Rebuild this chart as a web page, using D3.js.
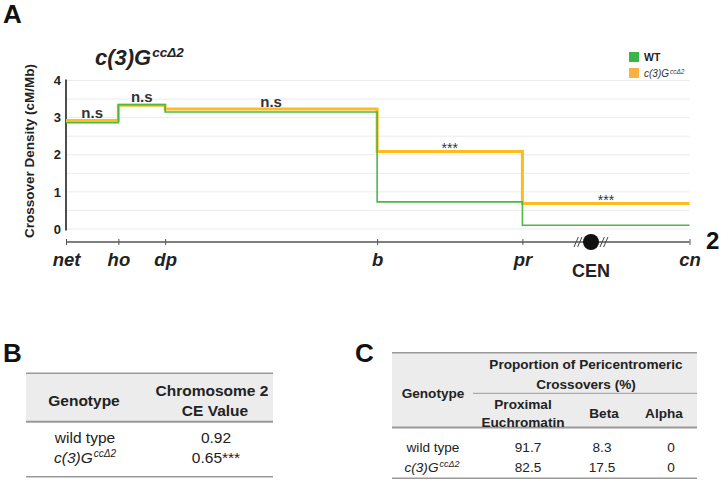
<!DOCTYPE html>
<html><head><meta charset="utf-8">
<script src="https://cdn.jsdelivr.net/npm/d3@7"></script>
<style>body{margin:0;background:#fff}svg{display:block;font-family:"Liberation Sans",Arial,sans-serif}</style>
</head><body><svg id="c" width="721" height="480"></svg>
<script>
// ---------- data ----------
const markers = ["net", "ho", "dp", "b", "pr", "cn"];
const markerPos = [0, 8.4, 15.9, 49.9, 73.2, 100];   // relative map position along chromosome 2
const cenPos = 84.2;
const wtDensity = [2.86, 3.35, 3.15, 0.73, 0.10];
const mutDensity = [2.92, 3.33, 3.23, 2.09, 0.69];
const significance = ["n.s", "n.s", "n.s", "***", "***"];
const yTicks = [0, 1, 2, 3, 4];
const gridTicks = [0, 0.5, 1, 1.5, 2, 2.5, 3, 3.5, 4];
const seriesNames = ["WT", "c(3)G"];

const tableBGenotypes = ["wild type", "c(3)G"];
const tableBValues = ["0.92", "0.65***"];
const tableCSubHeaders = [["Proximal", "Euchromatin"], ["Beta"], ["Alpha"]];
const tableCWT = ["91.7", "8.3", "0"];
const tableCMut = ["82.5", "17.5", "0"];

// ---------- setup ----------
const svg = d3.select("#c");
const GREEN = "#4cb848", ORANGE = "#fbbd1e";
const x = d3.scaleLinear().domain([0, 100]).range([66, 689.5]);
const y = d3.scaleLinear().domain([0, 4]).range([229, 80.5]);

function genotype(sel, gx, gy, size, supSize, rise, anchor, weight, fill) {
  const t = sel.append("text").attr("x", gx).attr("y", gy)
    .attr("font-size", size).attr("font-style", "italic")
    .attr("font-weight", weight || "normal").attr("fill", fill || "#111")
    .attr("text-anchor", anchor || "start");
  t.append("tspan").text("c(3)G");
  t.append("tspan").attr("dy", -rise).attr("dx", 1).attr("font-size", supSize).text("ccΔ2");
  return t;
}

// panel letters
svg.append("text").attr("x", 3).attr("y", 23).attr("font-size", 26).attr("font-weight", "bold").attr("fill", "#111").text("A");
svg.append("text").attr("x", 3).attr("y", 362).attr("font-size", 26).attr("font-weight", "bold").attr("fill", "#111").text("B");
svg.append("text").attr("x", 355).attr("y", 362).attr("font-size", 26).attr("font-weight", "bold").attr("fill", "#111").text("C");

// title
genotype(svg, 95, 65, 22, 13.5, 8, "start", "bold", "#222");

// gridlines
svg.append("g").selectAll("line").data(gridTicks).join("line")
  .attr("x1", x(0)).attr("x2", x(100)).attr("y1", d => y(d)).attr("y2", d => y(d))
  .attr("stroke", "#ebebeb").attr("stroke-width", 1);

// y axis
const yAxis = d3.axisLeft(y).tickValues(yTicks).tickSize(0).tickPadding(5).tickFormat(d3.format("d"));
const gy = svg.append("g").attr("transform", `translate(${x(0)},0)`).call(yAxis);
gy.select(".domain").attr("stroke", "#222").attr("stroke-width", 1.6).attr("d", `M0,${y(4) - 1}V${y(0) + 1.5}`);
gy.selectAll("text").attr("font-size", 13).attr("font-weight", "bold").attr("fill", "#222")
  .attr("font-family", "'Liberation Sans',Arial,sans-serif");

svg.append("text").attr("transform", `translate(34,151) rotate(-90)`).attr("text-anchor", "middle")
  .attr("font-size", 13.5).attr("font-weight", "bold").attr("fill", "#222").text("Crossover Density (cM/Mb)");

// step lines
function stepPts(vals) {
  const pts = vals.map((v, i) => [markerPos[i], v]);
  pts.push([markerPos[markerPos.length - 1], vals[vals.length - 1]]);
  return pts;
}
const line = d3.line().x(d => x(d[0])).y(d => y(d[1])).curve(d3.curveStepAfter);
svg.append("path").attr("d", line(stepPts(mutDensity))).attr("fill", "none").attr("stroke", ORANGE).attr("stroke-width", 3);
svg.append("path").attr("d", line(stepPts(wtDensity))).attr("fill", "none").attr("stroke", GREEN).attr("stroke-width", 1.6);

// significance labels
significance.forEach((s, i) => {
  const cx = (x(markerPos[i]) + x(markerPos[i + 1])) / 2;
  const top = y(Math.max(wtDensity[i], mutDensity[i]));
  if (s === "n.s") {
    svg.append("text").attr("x", cx).attr("y", top - 2.5).attr("text-anchor", "middle")
      .attr("font-size", 15).attr("font-weight", "bold").attr("fill", "#333").text(s);
  } else {
    svg.append("text").attr("x", cx).attr("y", top + 1.5).attr("text-anchor", "middle")
      .attr("font-size", 14).attr("fill", "#333").text(s);
  }
});

// x axis (chromosome)
const xAxis = d3.axisBottom(x).tickValues(markerPos).tickSize(3).tickFormat((d, i) => markers[i]);
const gx = svg.append("g").attr("transform", "translate(0,242)").call(xAxis);
gx.select(".domain").attr("stroke", "#555").attr("stroke-width", 1.5).attr("d", `M${x(0)},0H${x(100)}`);
gx.selectAll(".tick line").attr("stroke", "#555").attr("stroke-width", 1).attr("y1", -3).attr("y2", 3);
gx.selectAll(".tick text").attr("y", 24).attr("dy", 0).attr("font-size", 18.5).attr("font-weight", "bold")
  .attr("font-style", "italic").attr("fill", "#222").attr("font-family", "'Liberation Sans',Arial,sans-serif");

// centromere
svg.append("circle").attr("cx", x(cenPos)).attr("cy", 242).attr("r", 8).attr("fill", "#111");
[-13, 13].forEach(off => {
  [-1.8, 1.8].forEach(o2 => {
    const cx = x(cenPos) + off + o2;
    svg.append("line").attr("x1", cx - 2.2).attr("y1", 247).attr("x2", cx + 2.2).attr("y2", 237)
      .attr("stroke", "#444").attr("stroke-width", 1);
  });
});
svg.append("text").attr("x", x(cenPos)).attr("y", 277).attr("text-anchor", "middle")
  .attr("font-size", 18).attr("font-weight", "bold").attr("fill", "#222").text("CEN");
svg.append("text").attr("x", 706).attr("y", 249).attr("font-size", 24).attr("font-weight", "bold")
  .attr("fill", "#111").text("2");

// legend
const leg = svg.append("g");
["#39b54a", "#fbb03f"].forEach((c, i) => {
  leg.append("rect").attr("x", 629).attr("y", 52 + i * 16).attr("width", 10).attr("height", 10).attr("fill", c);
});
leg.append("text").attr("x", 644).attr("y", 61).attr("font-size", 10.5).attr("font-weight", "bold").attr("fill", "#222").text(seriesNames[0]);
genotype(leg, 644, 77, 10, 6.5, 3.5, "start", "normal", "#333");

// ---------- table B ----------
const tB = svg.append("g");
tB.append("rect").attr("x", 26).attr("y", 373).attr("width", 247).attr("height", 48.5).attr("fill", "#ececec");
tB.append("line").attr("x1", 26).attr("x2", 273).attr("y1", 373.3).attr("y2", 373.3).attr("stroke", "#999").attr("stroke-width", 1.5);
tB.append("line").attr("x1", 26).attr("x2", 273).attr("y1", 421.7).attr("y2", 421.7).attr("stroke", "#999").attr("stroke-width", 2);
tB.append("line").attr("x1", 26).attr("x2", 273).attr("y1", 476.7).attr("y2", 476.7).attr("stroke", "#999").attr("stroke-width", 1.5);
const bFont = 15.5;
tB.append("text").attr("x", 84).attr("y", 405.5).attr("text-anchor", "middle").attr("font-size", bFont).attr("font-weight", "bold").attr("fill", "#222").text("Genotype");
tB.append("text").attr("x", 212).attr("y", 395.5).attr("text-anchor", "middle").attr("font-size", bFont).attr("font-weight", "bold").attr("fill", "#222").text("Chromosome 2");
tB.append("text").attr("x", 215).attr("y", 415.5).attr("text-anchor", "middle").attr("font-size", bFont).attr("font-weight", "bold").attr("fill", "#222").text("CE Value");
const bRowY = [442.5, 463];
tB.append("text").attr("x", 85).attr("y", bRowY[0]).attr("text-anchor", "middle").attr("font-size", bFont).attr("fill", "#222").text(tableBGenotypes[0]);
genotype(tB, 85, bRowY[1], bFont, 10, 6, "middle", "normal", "#222");
tableBValues.forEach((v, i) => {
  tB.append("text").attr("x", 216).attr("y", bRowY[i]).attr("text-anchor", "middle").attr("font-size", bFont).attr("fill", "#222").text(v);
});

// ---------- table C ----------
const tC = svg.append("g");
const cFont = 13.6;
tC.append("rect").attr("x", 392).attr("y", 352.7).attr("width", 305).attr("height", 74.5).attr("fill", "#ececec");
tC.append("line").attr("x1", 392).attr("x2", 697).attr("y1", 352.7).attr("y2", 352.7).attr("stroke", "#999").attr("stroke-width", 1.5);
tC.append("line").attr("x1", 473).attr("x2", 697).attr("y1", 393.3).attr("y2", 393.3).attr("stroke", "#aaa").attr("stroke-width", 1.3);
tC.append("line").attr("x1", 392).attr("x2", 697).attr("y1", 427.5).attr("y2", 427.5).attr("stroke", "#999").attr("stroke-width", 2);
tC.append("line").attr("x1", 392).attr("x2", 697).attr("y1", 478.3).attr("y2", 478.3).attr("stroke", "#999").attr("stroke-width", 1.5);
tC.append("text").attr("x", 433).attr("y", 398).attr("text-anchor", "middle").attr("font-size", cFont).attr("font-weight", "bold").attr("fill", "#222").text("Genotype");
tC.append("text").attr("x", 586).attr("y", 369).attr("text-anchor", "middle").attr("font-size", cFont).attr("font-weight", "bold").attr("fill", "#222").text("Proportion of Pericentromeric");
tC.append("text").attr("x", 586).attr("y", 388.5).attr("text-anchor", "middle").attr("font-size", cFont).attr("font-weight", "bold").attr("fill", "#222").text("Crossovers (%)");
const cHeadX = [523, 604, 664];
const cDataX = [528, 602, 671];
tableCSubHeaders.forEach((lines, i) => {
  const y0 = lines.length === 2 ? 409 : 418;
  lines.forEach((l, j) => {
    tC.append("text").attr("x", cHeadX[i]).attr("y", y0 + j * 17.5).attr("text-anchor", "middle")
      .attr("font-size", cFont).attr("font-weight", "bold").attr("fill", "#222").text(l);
  });
});
const cRowY = [451.5, 472];
tC.append("text").attr("x", 433).attr("y", cRowY[0]).attr("text-anchor", "middle").attr("font-size", cFont).attr("fill", "#222").text(tableBGenotypes[0]);
genotype(tC, 432, cRowY[1], cFont, 9, 5.5, "middle", "normal", "#222");
[tableCWT, tableCMut].forEach((row, r) => {
  row.forEach((v, i) => {
    tC.append("text").attr("x", cDataX[i]).attr("y", cRowY[r]).attr("text-anchor", "middle").attr("font-size", cFont).attr("fill", "#222").text(v);
  });
});
</script></body></html>
